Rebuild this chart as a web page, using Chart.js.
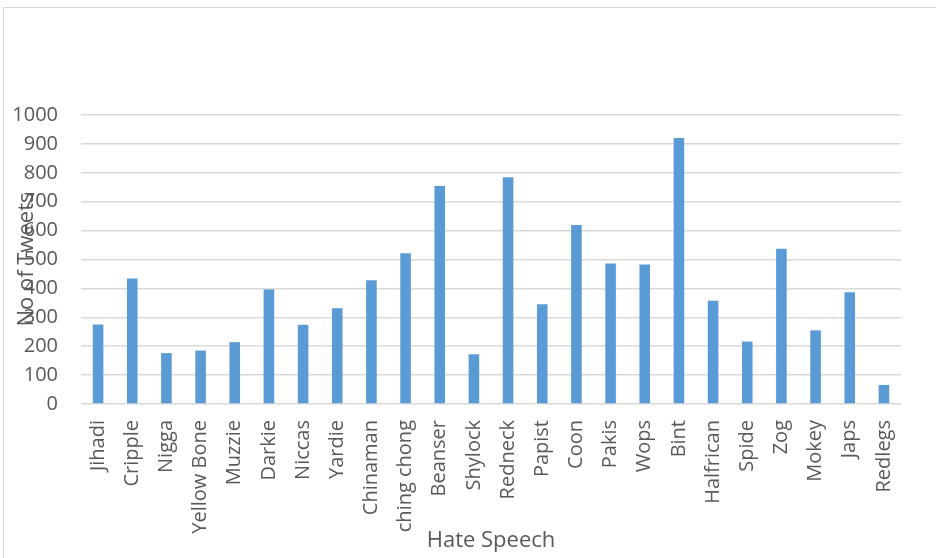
<!DOCTYPE html>
<html>
<head>
<meta charset="utf-8">
<script src="https://cdn.jsdelivr.net/npm/chart.js@4"></script>
<style>
  html, body { margin: 0; padding: 0; background: #fff; overflow: hidden; }
  #frame { position: absolute; left: 3px; top: 7px; width: 940px; height: 560px; border: 1.5px solid #d9d9d9; }
  #wrap { position: absolute; left: 0; top: 0; width: 936px; height: 558px; }
</style>
</head>
<body>
<div id="frame"></div>
<div id="wrap"><canvas id="barChart"></canvas></div>
<script>
const terms = ['Jihadi', 'Cripple', 'Nigga', 'Yellow Bone', 'Muzzie', 'Darkie', 'Niccas', 'Yardie',
  'Chinaman', 'ching chong', 'Beanser', 'Shylock', 'Redneck', 'Papist', 'Coon', 'Pakis', 'Wops',
  'Bint', 'Halfrican', 'Spide', 'Zog', 'Mokey', 'Japs', 'Redlegs'];
const tweetCounts = [275, 434, 176, 185, 214, 396, 274, 331, 428, 522, 754, 172, 785, 345,
  619, 486, 483, 920, 357, 216, 537, 255, 387, 66];
const yTicks = [0, 100, 200, 300, 400, 500, 600, 700, 800, 900, 1000];

const labelFont = { family: 'Open Sans', size: 20 };
const textColor = '#595959';

const barConfig = {
  type: 'bar',
  data: {
    labels: terms,
    datasets: [{
      data: tweetCounts,
      backgroundColor: '#5b9bd5',
      barPercentage: 0.31,
      categoryPercentage: 1
    }]
  },
  options: {
    responsive: true,
    maintainAspectRatio: false,
    animation: false,
    layout: { padding: { top: 115, right: 35, left: 0, bottom: 0 } },
    plugins: {
      legend: { display: false },
      tooltip: { enabled: false }
    },
    scales: {
      x: {
        grid: { display: false, drawTicks: false },
        border: { display: false },
        ticks: {
          color: textColor,
          font: labelFont,
          minRotation: 90,
          maxRotation: 90,
          autoSkip: false,
          padding: 16
        },
        title: {
          display: true,
          text: 'Hate Speech',
          color: textColor,
          font: { family: 'Open Sans', size: 22 },
          padding: { top: 0, bottom: 4 }
        },
        afterFit: (scale) => { scale.height = 154; }
      },
      y: {
        min: 0,
        max: 1000,
        afterBuildTicks: (scale) => { scale.ticks = yTicks.map(v => ({ value: v })); },
        grid: { color: '#d9d9d9', lineWidth: 1.5, drawTicks: false },
        border: { display: false },
        ticks: {
          color: textColor,
          font: labelFont,
          padding: 23,
          callback: (value) => String(value)
        },
        title: {
          display: true,
          text: 'No of Tweets',
          color: textColor,
          font: { family: 'Open Sans', size: 22 },
          padding: { top: 14, bottom: 0 }
        },
        afterFit: (scale) => { scale.width = 81; }
      }
    }
  }
};

const myBarChart = new Chart(document.getElementById('barChart'), barConfig);
</script>
</body>
</html>
